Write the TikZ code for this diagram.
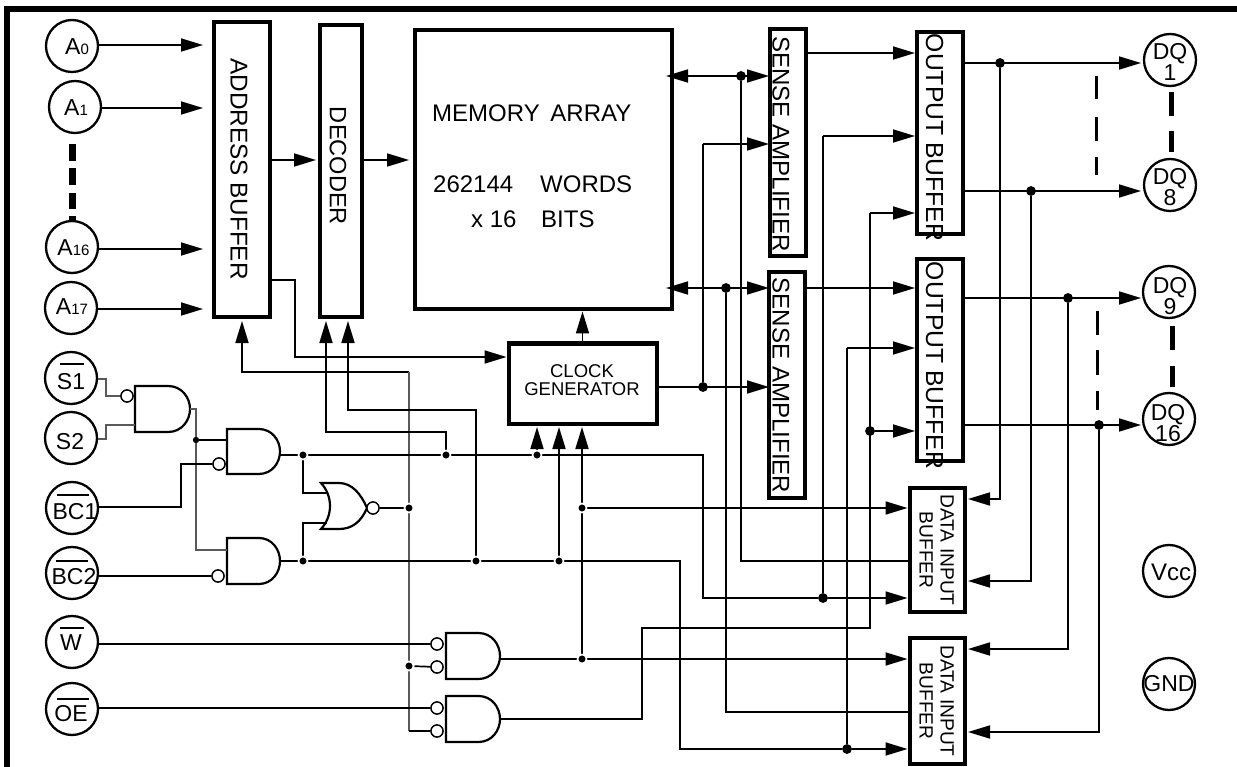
\documentclass[tikz,border=0pt]{standalone}
\usepackage{fontspec}
\setmainfont{Liberation Sans}
\usetikzlibrary{arrows.meta}
\newcommand{\fs}[1]{\fontsize{#1}{#1}\selectfont}
\newcommand{\andgate}[4]{%
  \draw[gate] (#1,#2) -- ({#1+.6*#3},#2) .. controls ({#1+.85*#3},#2) and ({#1+#3},{#2+.25*#4}) .. ({#1+#3},{#2+.5*#4})
   .. controls ({#1+#3},{#2+.75*#4}) and ({#1+.85*#3},{#2+#4}) .. ({#1+.6*#3},{#2+#4}) -- (#1,{#2+#4}) -- cycle;}
\tikzset{
  wire/.style={line width=1.7pt,line join=miter},
  thinw/.style={line width=1.1pt,draw=black!65},
  ar/.style={wire,-{Triangle[length=22pt,width=13pt]}},
  arb/.style={wire,{Triangle[length=22pt,width=13pt]}-{Triangle[length=22pt,width=13pt]}},
  blk/.style={draw,line width=4pt,fill=white,inner sep=0pt},
  term/.style={draw,circle,line width=2.3pt,minimum size=52pt,inner sep=0pt,fill=white},
  gate/.style={line width=2.2pt,fill=white},
  bub/.style={draw,circle,line width=1.3pt,fill=white,minimum size=12pt,inner sep=0pt},
  dotS/.style={circle,fill=black,draw=white,line width=1.6pt,minimum size=9pt,inner sep=0pt},
  dotT/.style={circle,fill=black,minimum size=6pt,inner sep=0pt},
  dotB/.style={circle,fill=black,minimum size=9.5pt,inner sep=0pt},
  lab/.style={inner sep=0pt,font=\fs{23}},
  mlab/.style={inner sep=0pt,anchor=base west,font=\fs{24}},
  rlab/.style={inner sep=0pt,rotate=-90},
  ovl/.style={line width=1.4pt},
  dashT/.style={line width=7pt},
  dashM/.style={line width=5pt},
  dashN/.style={line width=3pt},
}
\begin{document}
\begin{tikzpicture}[x=1pt,y=-1pt]
\useasboundingbox (0,0) rectangle (1237,767);
% frame
\fill (4,6) rectangle (1237,12);
\fill (4,6) rectangle (10,767);

% blocks
\node[blk,minimum width=56pt,minimum height=295pt] (AB) at (241.5,170) {};
\node[blk,minimum width=42pt,minimum height=292pt] (DEC) at (340.5,171.5) {};
\node[blk,minimum width=257pt,minimum height=279pt] (MEM) at (543,170) {};
\node[blk,minimum width=148pt,minimum height=80pt] (CLK) at (582.5,383.5) {};
\node[blk,minimum width=36pt,minimum height=227pt] (SA1) at (787.5,143) {};
\node[blk,minimum width=36pt,minimum height=226pt] (SA2) at (787,385) {};
\node[blk,minimum width=46pt,minimum height=202pt] (OB1) at (940,133.5) {};
\node[blk,minimum width=46pt,minimum height=201pt] (OB2) at (940,360) {};
\node[blk,minimum width=55pt,minimum height=124pt] (DIB1) at (937,549.5) {};
\node[blk,minimum width=55pt,minimum height=126pt] (DIB2) at (937,700.5) {};

% terminals
\node[term] (A0) at (72,46) {};
\node[term] (A1) at (75,107) {};
\node[term] (A16) at (72,247) {};
\node[term] (A17) at (71,308) {};
\node[term] (S1) at (71,378) {};
\node[term] (S2) at (71,438) {};
\node[term] (BC1) at (72,508) {};
\node[term] (BC2) at (72,573) {};
\node[term] (W) at (72,642) {};
\node[term] (OE) at (72,709) {};
\node[term] (DQ1) at (1170,60) {};
\node[term] (DQ8) at (1170,185) {};
\node[term] (DQ9) at (1169,292) {};
\node[term] (DQ16) at (1169,419) {};
\node[term] (VCC) at (1169,571) {};
\node[term] (GND) at (1169,684) {};

% named points
\coordinate (pA0) at (203,45);
\coordinate (pA1) at (203,108);
\coordinate (pA16) at (203,249);
\coordinate (pA17) at (203,309);
\coordinate (pDEC) at (316,160);
\coordinate (pMEM) at (409,160);
\coordinate (abo) at (271,280);
\coordinate (abc) at (295,357);
\coordinate (upAB) at (242,321);
\coordinate (upD1) at (326,321);
\coordinate (upD2) at (348,321);
\coordinate (memL1) at (666,76);
\coordinate (memL2) at (666,288);
\coordinate (saP1) at (769,76);
\coordinate (saP2) at (769,288);
\coordinate (saC1) at (769,144);
\coordinate (saC2) at (769,387);
\coordinate (t1) at (1141,63);
\coordinate (t8) at (1141,191);
\coordinate (t9) at (1141,298);
\coordinate (t16) at (1141,425);

% junctions
\node[dotT] (jg1) at (196,440) {};
\node[dotS] (jA) at (303,455) {};
\node[dotS] (jB) at (446,455) {};
\node[dotS] (jC) at (537,455) {};
\node[dotS] (jD) at (303,561) {};
\node[dotS] (jE) at (476,561) {};
\node[dotS] (jF) at (559,561) {};
\node[dotS] (jG) at (582,508) {};
\node[dotS] (jH) at (582,659) {};
\node[dotS] (jN) at (409,508) {};
\node[dotS] (jR) at (409,666) {};
\node[dotB] (jm1) at (741,76) {};
\node[dotB] (jm2) at (726,288) {};
\node[dotB] (jc) at (703,387) {};
\node[dotB] (jd1) at (823,598) {};
\node[dotB] (jd2) at (847,749) {};
\node[dotB] (jo) at (870,431) {};
\node[dotB] (jq1) at (1000,63) {};
\node[dotB] (jq8) at (1031,191) {};
\node[dotB] (jq9) at (1068,298) {};
\node[dotB] (jq16) at (1099,425) {};

% gates
\andgate{135}{386}{55}{46}
\andgate{227}{429}{53}{45}
\andgate{227}{538}{53}{46}
\andgate{446}{633}{54}{46}
\andgate{446}{696}{54}{46}
\draw[gate] (321,483) -- (339,483) .. controls (352,483) and (361,494) .. (367,508)
  .. controls (361,522) and (352,529) .. (339,529) -- (321,529)
  .. controls (333,516) and (333,496) .. (321,483) -- cycle;
\coordinate (g1o) at (190,409);
\coordinate (g2o) at (280,455);
\coordinate (g3o) at (280,561);
\coordinate (g4o) at (500,659);
\coordinate (g5o) at (500,719);
\node[bub] (b1) at (127,396) {};
\node[bub] (b2) at (219,464) {};
\node[bub] (b3) at (218,576) {};
\node[bub] (b4) at (437,644) {};
\node[bub] (b5) at (437,667) {};
\node[bub] (b6) at (437,708) {};
\node[bub] (b7) at (437,731) {};
\node[bub] (b8) at (373,508) {};

% address inputs
\draw[ar] (pA0 -| A0.east) -- (pA0);
\draw[ar] (pA1 -| A1.east) -- (pA1);
\draw[ar] (pA16 -| A16.east) -- (pA16);
\draw[ar] (pA17 -| A17.east) -- (pA17);
\draw[ar] (pDEC -| AB.east) -- (pDEC);
\draw[ar] (pMEM -| DEC.east) -- (pMEM);
\draw[ar] (abo) -| (abc) -- (abc -| CLK.west);
\draw[ar] (CLK.north) -- (CLK.north |- MEM.south);
% enable lines from NOR
\draw[ar] (jN |- 0,372) -- (upAB |- 0,372) -- (upAB);
\draw[thinw] (jN |- 0,372) -- (jN) -- (jR) -- (jN |- b7);
\draw[wire] (jN |- b7) -- (b7);
\draw[wire] (jR) -- (b5);
\draw[wire] (jN) -- (b8);
\draw[ar] (jB) -- (jB |- 0,432) -- (upD1 |- 0,432) -- (upD1);
\draw[ar] (jE) -- (jE |- 0,410) -- (upD2 |- 0,410) -- (upD2);
% S1 S2
\draw[thinw] (S1.east |- 0,379) -- (106,379) -- (106,396) -- (b1);
\draw[thinw] (S2.east |- 0,439) -- (106,439) -- (106,425) -- (135,425);
\draw[thinw] (g1o) -- (196,409) -- (196,550) -- (227,550);
\draw[wire] (jg1) -- (227,440);
\draw[wire] (BC1.east |- 0,507) -- (181,507) -- (181,464) -- (b2);
\draw[wire] (BC2.east |- b3) -- (b3);
\draw[wire] (W.east |- b4) -- (b4);
\draw[wire] (OE.east |- b6) -- (b6);
% NOR inputs
\draw[wire] (jA) -- (jA |- 0,493) -- (327,493);
\draw[wire] (jD) -- (jD |- 0,523) -- (327,523);
% bus from G2
\draw[wire] (g2o) -- (jA) -- (jB) -- (jC) -- (703,455) -- (703,598) -- (jd1);
\draw[ar] (jd1) -- (jd1 -| DIB1.west);
\draw[wire] (jd1) -- (823,136);
\draw[ar] (823,136) -- (823,136 -| OB1.west);
% bus from G3
\draw[wire] (g3o) -- (jD) -- (jE) -- (jF) -- (680,561) -- (680,749) -- (jd2);
\draw[ar] (jd2) -- (jd2 -| DIB2.west);
\draw[wire] (jd2) -- (847,348);
\draw[ar] (847,348) -- (847,348 -| OB2.west);
% up to clock
\draw[ar] (jC) -- (537,427);
\draw[ar] (jF) -- (559,427);
\draw[ar] (jH) -- (jG) -- (582,427);
\draw[ar] (jG) -- (jG -| DIB1.west);
\draw[ar] (g4o) -- (jH) -- (jH -| DIB2.west);
% G5
\draw[wire] (g5o) -- (642,719) -- (642,628) -- (870,628) -- (870,213);
\draw[ar] (870,213) -- (870,213 -| OB1.west);
\draw[ar] (jo) -- (jo -| OB2.west);
% clock to SA
\draw[ar] (jc -| CLK.east) -- (saC2);
\draw[wire] (jc) -- (703,144);
\draw[ar] (703,144) -- (saC1 |- 703,144);
% memory data
\draw[arb] (memL1) -- (saP1);
\draw[arb] (memL2) -- (saP2);
\draw[wire] (jm1) -- (741,561) -- (741,561 -| DIB1.west);
\draw[wire] (jm2) -- (726,712) -- (726,712 -| DIB2.west);
% SA to OB
\draw[ar] (SA1.east |- 0,53) -- (OB1.west |- 0,53);
\draw[ar] (SA2.east |- 0,288) -- (OB2.west |- 0,288);
% OB to DQ
\draw[ar] (jq1 -| OB1.east) -- (t1);
\draw[ar] (jq8 -| OB1.east) -- (t8);
\draw[ar] (jq9 -| OB2.east) -- (t9);
\draw[ar] (jq16 -| OB2.east) -- (t16);
\draw[ar] (jq1) -- (1000,499) -- (968,499);
\draw[ar] (jq8) -- (1031,581) -- (968,581);
\draw[ar] (jq9) -- (1068,649) -- (968,649);
\draw[ar] (jq16) -- (1099,732) -- (968,732);

% redraw bubbles and junctions above wires
\node[bub] at (b1) {};\node[bub] at (b2) {};\node[bub] at (b3) {};\node[bub] at (b4) {};
\node[bub] at (b5) {};\node[bub] at (b6) {};\node[bub] at (b7) {};\node[bub] at (b8) {};
\node[dotT] at (jg1) {};
\node[dotS] at (jA) {};\node[dotS] at (jB) {};\node[dotS] at (jC) {};\node[dotS] at (jD) {};
\node[dotS] at (jE) {};\node[dotS] at (jF) {};\node[dotS] at (jG) {};\node[dotS] at (jH) {};
\node[dotS] at (jN) {};\node[dotS] at (jR) {};
\node[dotB] at (jm1) {};\node[dotB] at (jm2) {};\node[dotB] at (jc) {};\node[dotB] at (jd1) {};
\node[dotB] at (jd2) {};\node[dotB] at (jo) {};\node[dotB] at (jq1) {};\node[dotB] at (jq8) {};
\node[dotB] at (jq9) {};\node[dotB] at (jq16) {};

% dashes
\draw[dashT] (72,144) -- (72,161);
\draw[dashT] (72,168) -- (72,185);
\draw[dashT] (72,193) -- (72,209);
\draw[dashT] (72,216) -- (72,221);
\draw[dashM] (1171,92) -- (1171,116);
\draw[dashM] (1171,131) -- (1171,152);
\draw[dashM] (1172,326) -- (1172,350);
\draw[dashM] (1172,366) -- (1172,387);
\draw[dashN] (1096,76) -- (1096,99);
\draw[dashN] (1096,117) -- (1096,141);
\draw[dashN] (1096,157) -- (1096,175);
\draw[dashN] (1097,311) -- (1097,335);
\draw[dashN] (1097,350) -- (1097,375);
\draw[dashN] (1097,391) -- (1097,410);

% texts
\node[lab] (tA0) at (77,47) {A{\fs{15}0}};
\node[lab] (tA1) at (76,108) {A{\fs{15}1}};
\node[lab] (tA16) at (73.5,248) {A{\fs{15}16}};
\node[lab] (tA17) at (72,307) {A{\fs{15}17}};
\node[lab] (tS1) at (71,382) {S1};
\node[lab] (tS2) at (70,442) {S2};
\node[lab] (tBC1) at (75,512) {BC1};
\node[lab] (tBC2) at (74,577) {BC2};
\node[lab] (tW) at (71,643) {W};
\node[lab] (tOE) at (71,714) {OE};
\draw[ovl] (60,364) -- (84,364);
\draw[ovl] (57,495) -- (89,495);
\draw[ovl] (56,561) -- (88,561);
\draw[ovl] (60,628) -- (84,628);
\draw[ovl] (57,699) -- (89,699);

\node[rlab,font=\fs{24.3}] (tAB) at (239,169) {ADDRESS BUFFER};
\node[rlab,font=\fs{23.6}] (tDEC) at (338,166) {DECODER};
\node[mlab] (tM1) at (432,122) {MEMORY\hspace{4pt} ARRAY};
\node[mlab] (tM2) at (433,193) {262144};
\node[mlab] (tM3) at (540,193) {WORDS};
\node[mlab] (tM4) at (471,228) {x 16};
\node[mlab] (tM5) at (541,228) {BITS};
\node[inner sep=0pt,align=center,font=\fontsize{18.5}{17.5}\selectfont] (tCLK) at (582,380) {CLOCK\\GENERATOR};
\node[rlab,font=\fs{24.1}] (tSA1) at (781,144) {SENSE AMPLIFIER};
\node[rlab,font=\fs{24.1}] (tSA2) at (781,385.5) {SENSE AMPLIFIER};
\node[rlab,font=\fs{24.7}] (tOB1) at (934.5,137.5) {OUTPUT BUFFER};
\node[rlab,font=\fs{24.7}] (tOB2) at (934.5,365.5) {OUTPUT BUFFER};
\node[rlab,align=center,font=\fontsize{19.2}{21}\selectfont] (tD1) at (936.5,550) {DATA INPUT\\BUFFER};
\node[rlab,align=center,font=\fontsize{19.2}{21}\selectfont] (tD2) at (936.5,701) {DATA INPUT\\BUFFER};
\node[inner sep=0pt,align=center,font=\fontsize{23}{20}\selectfont] (tQ1) at (1170,62) {DQ\\1};
\node[inner sep=0pt,align=center,font=\fontsize{23}{20}\selectfont] (tQ8) at (1170,187) {DQ\\8};
\node[inner sep=0pt,align=center,font=\fontsize{23}{20}\selectfont] (tQ9) at (1170,296) {DQ\\9};
\node[inner sep=0pt,align=center,font=\fontsize{23}{20}\selectfont] (tQ16) at (1168,423) {DQ\\16};
\node[inner sep=0pt,font=\fs{24}] (tV) at (1171,572) {Vcc};
\node[lab] (tG) at (1169,684) {GND};
\end{tikzpicture}
\end{document}
